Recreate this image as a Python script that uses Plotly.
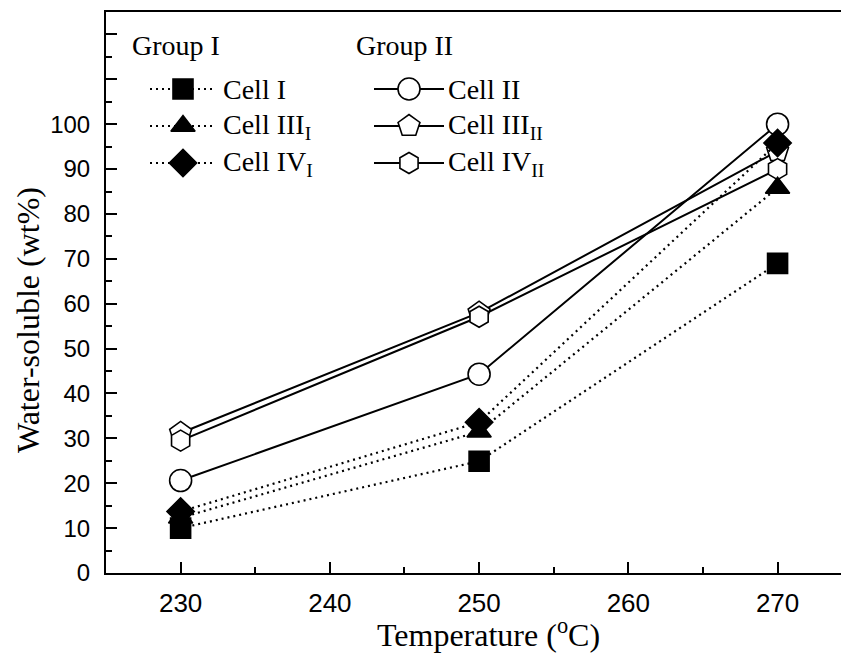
import plotly.graph_objects as go

temps = [230, 250, 270]
cell_I = [10.0, 24.9, 69.0]
cell_III_I = [12.3, 31.5, 85.8]
cell_IV_I = [13.7, 33.6, 95.8]
cell_II = [20.6, 44.3, 100.0]
cell_III_II = [31.2, 58.0, 94.0]
cell_IV_II = [29.5, 57.1, 90.0]

y_tickvals = list(range(0, 130, 10))
y_ticktext = [str(v) if v <= 100 else "" for v in y_tickvals]
x_tickvals = [230, 240, 250, 260, 270]

DOT = "2px,4px"
fig = go.Figure()

def add(y, sym, size, filled, dash, name):
    fig.add_trace(go.Scatter(
        x=temps, y=y, mode="lines+markers", name=name,
        line=dict(color="black", width=2 if dash == "solid" else 2.2, dash=dash),
        marker=dict(symbol=sym, size=size,
                    color="black" if filled else "white",
                    line=dict(color="black", width=1.6)),
        showlegend=False, cliponaxis=False))

add(cell_II, "circle", 22, False, "solid", "Cell II")
add(cell_III_II, "pentagon", 23, False, "solid", "Cell III_II")
add(cell_IV_II, "hexagon", 21, False, "solid", "Cell IV_II")
add(cell_I, "square", 20, True, DOT, "Cell I")
add(cell_III_I, "triangle-up", 21, True, DOT, "Cell III_I")
add(cell_IV_I, "diamond", 21, True, DOT, "Cell IV_I")

# page coordinates of the plot area
L = 106; R = 841; T = 12; B = 573
SERIF = "Liberation Serif"

def px(x):
    return (x - L) / (R - L)

def py(y):
    return (B - y) / (B - T)

rows = [89, 126, 163]
g1 = [("square", 20, "Cell I"),
      ("triangle-up", 21, "Cell III<sub>I</sub>"),
      ("diamond", 21, "Cell IV<sub>I</sub>")]
g2 = [("circle", 22, "Cell II"),
      ("pentagon", 23, "Cell III<sub>II</sub>"),
      ("hexagon", 21, "Cell IV<sub>II</sub>")]
for (sym, size, name), yy in zip(g1, rows):
    fig.add_trace(go.Scatter(x=[150, 216], y=[yy, yy], mode="lines", xaxis="x2", yaxis="y2",
                             line=dict(color="black", width=2.2, dash=DOT), showlegend=False, hoverinfo="skip"))
    fig.add_trace(go.Scatter(x=[183], y=[yy], mode="markers", xaxis="x2", yaxis="y2",
                             marker=dict(symbol=sym, size=size, color="black", line=dict(color="black", width=1.6)),
                             showlegend=False, hoverinfo="skip"))
    fig.add_annotation(x=221, y=yy, xref="x2", yref="y2", text=name, showarrow=False,
                       xanchor="left", yanchor="middle", font=dict(family=SERIF, size=28, color="black"))
for (sym, size, name), yy in zip(g2, rows):
    fig.add_trace(go.Scatter(x=[374, 444], y=[yy, yy], mode="lines", xaxis="x2", yaxis="y2",
                             line=dict(color="black", width=2), showlegend=False, hoverinfo="skip"))
    fig.add_trace(go.Scatter(x=[409], y=[yy], mode="markers", xaxis="x2", yaxis="y2",
                             marker=dict(symbol=sym, size=size, color="white", line=dict(color="black", width=1.6)),
                             showlegend=False, hoverinfo="skip"))
    fig.add_annotation(x=446, y=yy, xref="x2", yref="y2", text=name, showarrow=False,
                       xanchor="left", yanchor="middle", font=dict(family=SERIF, size=28, color="black"))
fig.add_annotation(x=130, y=45, xref="x2", yref="y2", text="Group I", showarrow=False,
                   xanchor="left", yanchor="middle", font=dict(family=SERIF, size=28, color="black"))
fig.add_annotation(x=354, y=45, xref="x2", yref="y2", text="Group II", showarrow=False,
                   xanchor="left", yanchor="middle", font=dict(family=SERIF, size=28, color="black"))

# axis titles
fig.add_annotation(x=px(488), y=py(633), xref="paper", yref="paper", text="Temperature (<sup>o</sup>C)",
                   showarrow=False, xanchor="center", yanchor="middle",
                   font=dict(family=SERIF, size=32, color="black"))
fig.add_annotation(x=px(28), y=py(320), xref="paper", yref="paper", text="Water-soluble (wt%)",
                   showarrow=False, xanchor="center", yanchor="middle", textangle=-90,
                   font=dict(family=SERIF, size=32, color="black"))

fig.update_layout(
    width=841, height=653,
    margin=dict(l=L, r=0, t=T, b=653 - B),
    paper_bgcolor="white", plot_bgcolor="white",
    xaxis=dict(range=[225, 274.25], tickvals=x_tickvals, ticks="inside", ticklen=11, tickwidth=1.6,
               tickcolor="black", showgrid=False, zeroline=False, showline=True, linecolor="black",
               linewidth=2, mirror=True, ticklabelstandoff=6,
               minor=dict(dtick=5, tick0=225, ticks="inside", ticklen=6, tickwidth=1.6, tickcolor="black", showgrid=False),
               tickfont=dict(family="Liberation Sans", size=26, color="black")),
    yaxis=dict(range=[0, 125], tickvals=y_tickvals, ticktext=y_ticktext, ticks="inside", ticklen=11, tickwidth=1.6,
               tickcolor="black", showgrid=False, zeroline=False, showline=True, linecolor="black", linewidth=2,
               ticklabelstandoff=9,
               minor=dict(dtick=5, tick0=0, ticks="inside", ticklen=6, tickwidth=1.6, tickcolor="black", showgrid=False),
               tickfont=dict(family="Liberation Sans", size=24, color="black")),
    xaxis2=dict(range=[L, R], domain=[0, 1], overlaying="x", visible=False, fixedrange=True),
    yaxis2=dict(range=[B, T], domain=[0, 1], overlaying="y", visible=False, fixedrange=True),
)

fig.write_html("out.html", config={"displayModeBar": False},
               post_script="document.body.style.margin='0';document.body.style.overflow='hidden';")
